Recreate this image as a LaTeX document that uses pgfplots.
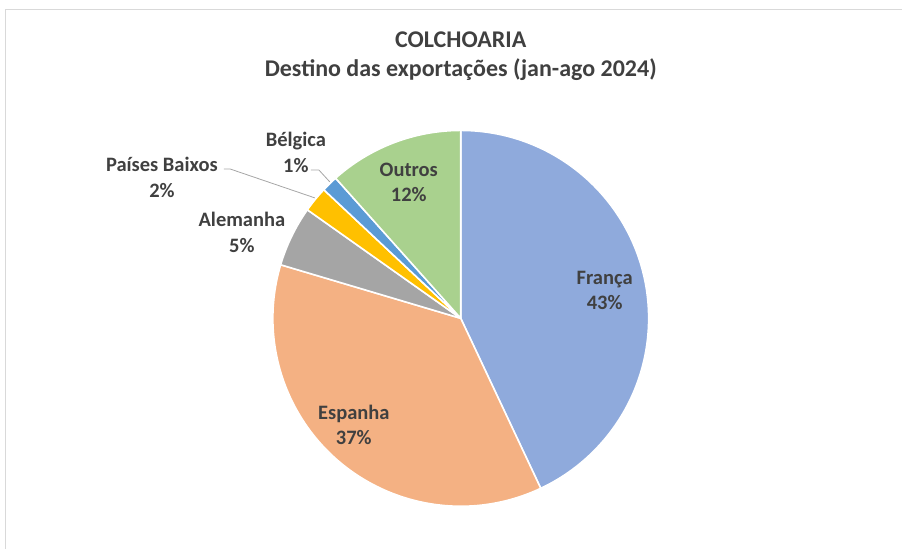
\documentclass[border=0pt]{standalone}
\usepackage{pgfplots}
\usepackage{pgfplotstable}
\pgfplotsset{compat=1.18}
\usepackage{fontspec}
\setmainfont{Carlito}
\definecolor{c0}{HTML}{8FAADC}
\definecolor{c1}{HTML}{F4B183}
\definecolor{c2}{HTML}{A5A5A5}
\definecolor{c3}{HTML}{FFC000}
\definecolor{c4}{HTML}{5B9BD5}
\definecolor{c5}{HTML}{A9D18E}
\definecolor{txt}{HTML}{404040}
\definecolor{frame}{HTML}{D9D9D9}
\definecolor{lead}{HTML}{A6A6A6}
\tikzset{lbl/.style={text=txt, font=\bfseries\fontsize{20.5}{25.5}\selectfont, align=center, inner sep=0pt}}

\pgfplotstableread[col sep=comma]{
name,value
França,43.0
Espanha,36.6
Alemanha,5.2
Países Baixos,2.2
Bélgica,1.4
Outros,11.6
}\piedata

\begin{document}
\begin{tikzpicture}
\def\cum{90}
\pgfplotsforeachungrouped \i in {0,...,5}{%
  \pgfplotstablegetelem{\i}{value}\of\piedata
  \pgfmathsetmacro\endang{\cum-3.6*\pgfplotsretval}%
  \expandafter\xdef\csname sA\i\endcsname{\cum}%
  \expandafter\xdef\csname sB\i\endcsname{\endang}%
  \xdef\cum{\endang}%
}
\begin{axis}[
  scale only axis, width=902pt, height=549pt,
  xmin=0, xmax=902, ymin=0, ymax=549,
  hide axis, clip=false,
]
\path (axis cs:0,0) rectangle (axis cs:902,549);
\draw[frame, line width=1pt] (axis cs:5.5,0) -- (axis cs:5.5,539) -- (axis cs:902,539);
\pgfplotsinvokeforeach{0,...,5}{
  \filldraw[fill=c#1, draw=white, line width=1.6pt, line join=round]
    (axis cs:461,230.5) -- (axis cs:{461+188*cos(\csname sA#1\endcsname)},{230.5+188*sin(\csname sA#1\endcsname)})
    arc[start angle=\csname sA#1\endcsname, end angle=\csname sB#1\endcsname, radius=188pt] -- cycle;
}
\draw[lead, line width=0.8pt] (axis cs:224,380) -- (axis cs:230,380) -- (axis cs:315,351);
\draw[lead, line width=0.8pt] (axis cs:311,379) -- (axis cs:319,379) -- (axis cs:330,367);
\node[lbl, font=\bfseries\fontsize{24}{29}\selectfont] at (axis cs:461,493) {COLCHOARIA\\Destino das exportações (jan-ago 2024)};
\node[lbl] at (axis cs:605,258.5) {França\\43\%};
\node[lbl] at (axis cs:354,124) {Espanha\\37\%};
\node[lbl] at (axis cs:242,316.5) {Alemanha\\5\%};
\node[lbl] at (axis cs:162,371.5) {Países Baixos\\2\%};
\node[lbl] at (axis cs:296,396.5) {Bélgica\\1\%};
\node[lbl] at (axis cs:409,366.5) {Outros\\12\%};
\end{axis}
\end{tikzpicture}
\end{document}
